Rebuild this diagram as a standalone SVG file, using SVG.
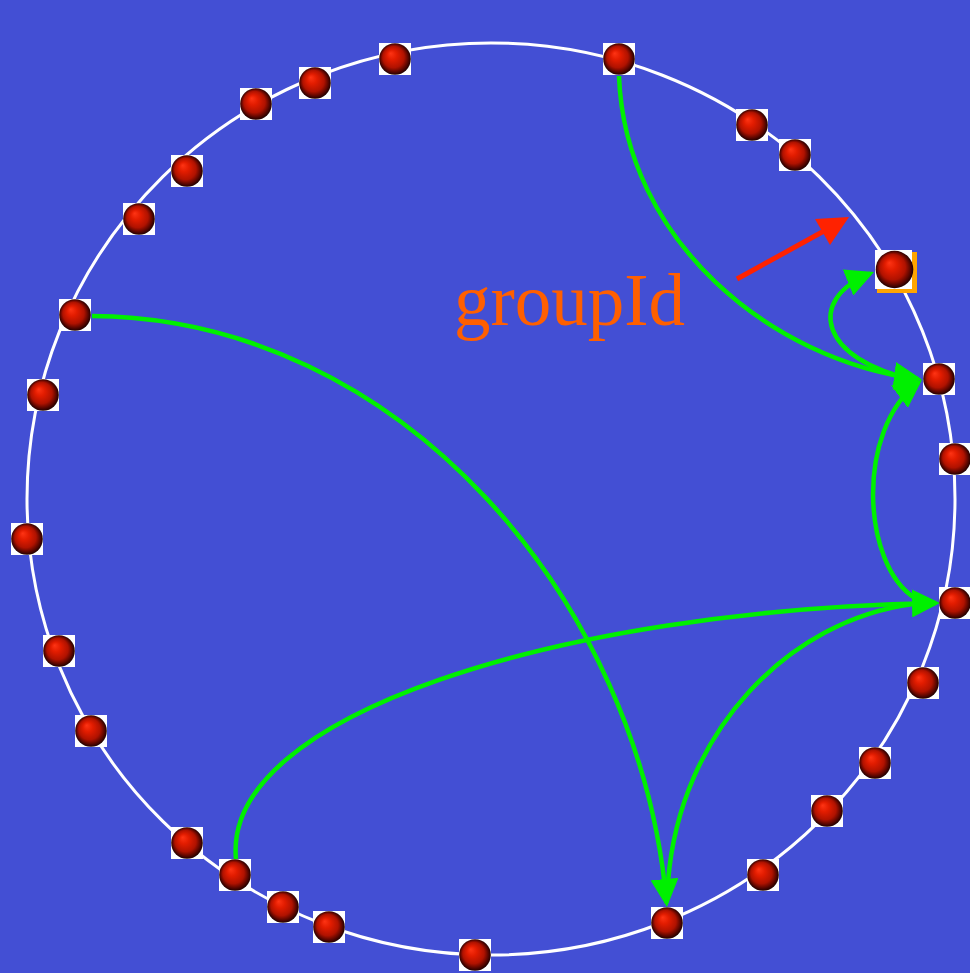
<svg xmlns="http://www.w3.org/2000/svg" xmlns:xlink="http://www.w3.org/1999/xlink" width="970" height="973" viewBox="0 0 970 973">
<style>
.edge{fill:none;stroke:#00f000;stroke-width:4.5;}
.ring{fill:none;stroke:#ffffff;stroke-width:3;}
.label{font-family:"Liberation Serif","Times New Roman",serif;font-size:73px;fill:#ff5f00;}
</style>
<defs>
<radialGradient id="sph" cx="0.5" cy="0.5" r="0.52" fx="0.36" fy="0.32">
<stop offset="0" stop-color="#ff3414"/>
<stop offset="0.3" stop-color="#e21c00"/>
<stop offset="0.65" stop-color="#b01200"/>
<stop offset="0.88" stop-color="#4a0400"/>
<stop offset="1" stop-color="#120000"/>
</radialGradient>
<g id="ball">
<rect x="-16" y="-16" width="32" height="32" fill="#ffffff"/>
<circle r="15.8" fill="url(#sph)"/>
</g>
<marker id="arr" markerUnits="userSpaceOnUse" markerWidth="28" markerHeight="28" refX="24" refY="14" orient="auto" viewBox="0 0 28 28">
<path d="M0,0 L28,14 L0,28 z" fill="#00f000"/>
</marker>
</defs>
<rect width="970" height="973" fill="#434fd4"/>
<ellipse class="ring" cx="491" cy="499" rx="464" ry="456"/>
<g id="connectors">
<path id="e-2-11" class="edge" d="M619,76 C625,240 770,360 918,379" marker-end="url(#arr)"/>
<path id="e-11-9" class="edge" d="M915,380 C820,360 805,300 870.3,273.5" marker-end="url(#arr)"/>
<path id="e-15-11" class="edge" d="M915,598 C862,565 855,430 918.7,382.3" marker-end="url(#arr)"/>
<path id="e-10-26" class="edge" d="M92,316 C400,318 640,600 666.6,903" marker-end="url(#arr)"/>
<path id="e-23-15" class="edge" d="M236,859 C222,715 560,610 936,603" marker-end="url(#arr)"/>
<path id="e-26-15" class="edge" d="M668,882 C680,730 790,620 913,604"/>
</g>
<g id="nodes">
<g id="n1"><use xlink:href="#ball" x="395" y="59"/></g>
<g id="n2"><use xlink:href="#ball" x="619" y="59"/></g>
<g id="n3"><use xlink:href="#ball" x="315" y="83"/></g>
<g id="n4"><use xlink:href="#ball" x="256" y="104"/></g>
<g id="n5"><use xlink:href="#ball" x="752" y="125"/></g>
<g id="n6"><use xlink:href="#ball" x="795" y="155"/></g>
<g id="n7"><use xlink:href="#ball" x="187" y="171"/></g>
<g id="n8"><use xlink:href="#ball" x="139" y="219"/></g>
<g id="n9">
<rect x="877" y="252" width="40" height="41" fill="#ffa500"/>
<rect x="875" y="250" width="37" height="39" fill="#ffffff"/>
<circle cx="894.5" cy="269.5" r="18.8" fill="url(#sph)"/>
</g>
<g id="n10"><use xlink:href="#ball" x="75" y="315"/></g>
<g id="n11"><use xlink:href="#ball" x="939" y="379"/></g>
<g id="n12"><use xlink:href="#ball" x="43" y="395"/></g>
<g id="n13"><use xlink:href="#ball" x="955" y="459"/></g>
<g id="n14"><use xlink:href="#ball" x="27" y="539"/></g>
<g id="n15"><use xlink:href="#ball" x="955" y="603"/></g>
<g id="n16"><use xlink:href="#ball" x="59" y="651"/></g>
<g id="n17"><use xlink:href="#ball" x="923" y="683"/></g>
<g id="n18"><use xlink:href="#ball" x="91" y="731"/></g>
<g id="n19"><use xlink:href="#ball" x="875" y="763"/></g>
<g id="n20"><use xlink:href="#ball" x="827" y="811"/></g>
<g id="n21"><use xlink:href="#ball" x="187" y="843"/></g>
<g id="n22"><use xlink:href="#ball" x="763" y="875"/></g>
<g id="n23"><use xlink:href="#ball" x="235" y="875"/></g>
<g id="n24"><use xlink:href="#ball" x="283" y="907"/></g>
<g id="n25"><use xlink:href="#ball" x="329" y="927"/></g>
<g id="n26"><use xlink:href="#ball" x="667" y="923"/></g>
<g id="n27"><use xlink:href="#ball" x="475" y="955"/></g>
</g>
<g id="pointer">
<line x1="737" y1="279" x2="824" y2="231" stroke="#ff2200" stroke-width="5"/>
<polygon points="849,217 815,219 830,245" fill="#ff2200"/>
</g>
<text class="label" x="454" y="325">groupId</text>
</svg>
